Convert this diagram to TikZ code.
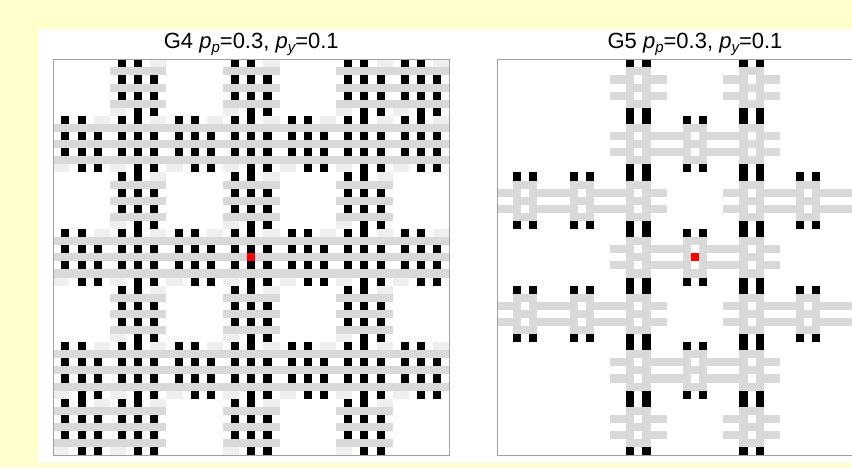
\documentclass[tikz,border=0pt]{standalone}
\usepackage{fontspec}
\setmainfont{Liberation Sans}
\definecolor{bgyellow}{HTML}{FFFFCC}
\definecolor{cg}{HTML}{D9D9D9}
\definecolor{clg}{HTML}{EFEFEF}
\definecolor{framegray}{HTML}{A0A0A0}
\newcommand\cellat[3]{\fill[#3] ({\ox+(#1)*\cs},{\oy+(#2)*\cs}) rectangle ++(\cs,\cs);}
\newcommand\subi[1]{\raisebox{-0.32ex}{\fontsize{15}{15}\selectfont\itshape #1}}
\newcommand\Gfive[2]{%
  \pgfmathtruncatemacro\cx{7*#1+3}\pgfmathtruncatemacro\cy{7*#2+3}%
  \foreach \d in {-3,-2,-1,1,2,3}{\cellat{\cx+\d}{\cy-1}{cg}\cellat{\cx+\d}{\cy+1}{cg}}%
  \foreach \d in {-1,0,1}{\cellat{\cx+\d}{\cy-2}{cg}\cellat{\cx+\d}{\cy}{cg}\cellat{\cx+\d}{\cy+2}{cg}}%
  \cellat{\cx-1}{\cy-3}{black}\cellat{\cx+1}{\cy-3}{black}%
  \cellat{\cx-1}{\cy+3}{black}\cellat{\cx+1}{\cy+3}{black}%
}
\newcommand\Gfour[2]{%
  \pgfmathtruncatemacro\cx{7*#1+3}\pgfmathtruncatemacro\cy{7*#2+3}%
  \foreach \d in {-3,...,3}{\cellat{\cx+\d}{\cy-2}{cg}\cellat{\cx+\d}{\cy}{cg}\cellat{\cx+\d}{\cy+2}{cg}}%
  \cellat{\cx+2}{\cy-3}{clg}\cellat{\cx+3}{\cy-3}{clg}%
  \cellat{\cx-2}{\cy+3}{clg}\cellat{\cx-3}{\cy+3}{clg}%
  \cellat{\cx-2}{\cy-3}{black}\cellat{\cx}{\cy-3}{black}%
  \foreach \d in {-2,0,2}{\cellat{\cx+\d}{\cy-1}{black}\cellat{\cx+\d}{\cy+1}{black}}%
  \cellat{\cx}{\cy+3}{black}\cellat{\cx+2}{\cy+3}{black}%
}
\begin{document}
\begin{tikzpicture}[x=1pt,y=-1pt]
\useasboundingbox (0,0) rectangle (852,467);
\fill[bgyellow] (0,0) rectangle (852,467);
\fill[white] (38,29) rectangle (852,463);
\def\cs{8.0816}
% ---------- G4 ----------
\def\ox{53.3}\def\oy{59.3}
\foreach \i/\j in {1/0,3/0,5/0,6/0,
  0/1,1/1,2/1,3/1,4/1,5/1,6/1,
  1/2,3/2,5/2,
  0/3,1/3,2/3,3/3,4/3,5/3,6/3,
  1/4,3/4,5/4,
  0/5,1/5,2/5,3/5,4/5,5/5,6/5,
  0/6,1/6,3/6,5/6}{\Gfour{\i}{\j}}
\cellat{24}{24}{red}
\draw[framegray,line width=1pt] (\ox,\oy) rectangle ++(396,396);
\node[anchor=base,font=\fontsize{22}{26}\selectfont] (t4) at (251.3,48.5)
  {G4 \textit{p}\subi{p}=0.3, \textit{p}\subi{y}=0.1};
% ---------- G5 ----------
\begin{scope}
\clip (0,0) rectangle (852,467);
\def\ox{497}\def\oy{59.3}
\foreach \i/\j in {2/0,4/0,
  2/1,3/1,4/1,
  0/2,1/2,2/2,4/2,5/2,6/2,
  2/3,3/3,4/3,
  0/4,1/4,2/4,4/4,5/4,6/4,
  2/5,3/5,4/5,
  2/6,4/6}{\Gfive{\i}{\j}}
\cellat{24}{24}{red}
\draw[framegray,line width=1pt] (\ox,\oy) rectangle ++(396,396);
\end{scope}
\node[anchor=base,font=\fontsize{22}{26}\selectfont] (t5) at (695,48.5)
  {G5 \textit{p}\subi{p}=0.3, \textit{p}\subi{y}=0.1};
\end{tikzpicture}
\end{document}
